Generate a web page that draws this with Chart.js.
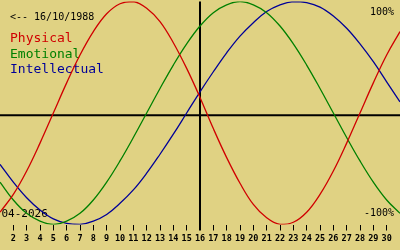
<!DOCTYPE html>
<html>
<head>
<meta charset="utf-8">
<script src="https://cdn.jsdelivr.net/npm/chart.js@4.4.1/dist/chart.umd.min.js"></script>
<style>
  html, body { margin: 0; padding: 0; background: #E0D283; }
  #wrap { width: 400px; height: 250px; position: relative; }
</style>
</head>
<body>
<div id="wrap"><canvas id="bioChart"></canvas></div>
<script>
// Days of the month (04-2026) and the three biorhythm cycles.
const days = [1, 2, 3, 4, 5, 6, 7, 8, 9, 10, 11, 12, 13, 14, 15, 16,
              17, 18, 19, 20, 21, 22, 23, 24, 25, 26, 27, 28, 29, 30, 31];
const physical = [-0.89, -0.73, -0.52, -0.27, 0, 0.27, 0.52, 0.73, 0.89, 0.98, 1.00,
                  0.94, 0.82, 0.63, 0.40, 0.14, -0.14, -0.40, -0.63, -0.82, -0.94,
                  -1.00, -0.98, -0.89, -0.73, -0.52, -0.27, 0, 0.27, 0.52, 0.73];
const emotional = [-0.62, -0.78, -0.90, -0.97, -1.00, -0.97, -0.90, -0.78, -0.62, -0.43,
                   -0.22, 0, 0.22, 0.43, 0.62, 0.78, 0.90, 0.97, 1.00, 0.97, 0.90,
                   0.78, 0.62, 0.43, 0.22, 0, -0.22, -0.43, -0.62, -0.78, -0.90];
const intellectual = [-0.46, -0.62, -0.76, -0.87, -0.95, -0.99, -1.00, -0.97, -0.91, -0.81,
                      -0.69, -0.54, -0.37, -0.19, 0, 0.19, 0.37, 0.54, 0.69, 0.81, 0.91,
                      0.97, 1.00, 0.99, 0.95, 0.87, 0.76, 0.62, 0.46, 0.28, 0.10];
const todayDay = 16;
const baseLevel = -0.02;   // the zero line sits a touch under the curves' midline
const birthLabel = '<-- 16/10/1988';
const monthLabel = '04-2026';
const seriesNames = ['Physical', 'Emotional', 'Intellectual'];
const seriesColors = ['#D00000', '#008000', '#000098'];

const BG = '#E0D283';
const MONO = '"DejaVu Sans Mono", monospace';

const toPoints = vals => days.map((d, i) => ({ x: d, y: vals[i] }));

// Background fill + the fixed captions.
const bioText = {
    id: 'bioText',
    beforeDraw(chart) {
        const ctx = chart.ctx;
        ctx.save();
        ctx.fillStyle = BG;
        ctx.fillRect(0, 0, chart.width, chart.height);
        ctx.restore();
    },
    beforeDatasetsDraw(chart) {
        const ctx = chart.ctx;
        ctx.save();
        ctx.textBaseline = 'alphabetic';
        ctx.fillStyle = '#000';
        ctx.font = '10px ' + MONO;
        ctx.textAlign = 'left';
        ctx.fillText(birthLabel, 10, 20);
        ctx.font = '11px ' + MONO;
        ctx.fillText(monthLabel, 1.5, 217);
        ctx.font = '10px ' + MONO;
        ctx.textAlign = 'right';
        ctx.fillText('100%', 394, 15);
        ctx.fillText('-100%', 394, 216);
        ctx.textAlign = 'left';
        ctx.font = '13px ' + MONO;
        seriesNames.forEach((n, i) => {
            ctx.fillStyle = seriesColors[i];
            ctx.fillText(n, 10, 42 + i * 15.7);
        });
        ctx.restore();
    }
};

function curve(label, vals, color) {
    return {
        label: label,
        data: toPoints(vals),
        borderColor: color,
        borderWidth: 1.3,
        pointRadius: 0,
        tension: 0.4,
        fill: false
    };
}

new Chart(document.getElementById('bioChart'), {
    type: 'line',
    data: {
        datasets: [
            curve(seriesNames[0], physical, seriesColors[0]),
            curve(seriesNames[1], emotional, seriesColors[1]),
            curve(seriesNames[2], intellectual, seriesColors[2]),
            {
                label: 'zero',
                data: [{ x: days[0], y: baseLevel }, { x: days[days.length - 1], y: baseLevel }],
                borderColor: '#000',
                borderWidth: 2,
                pointRadius: 0,
                order: 10
            }
        ]
    },
    options: {
        responsive: true,
        maintainAspectRatio: false,
        animation: false,
        devicePixelRatio: 1,
        layout: { padding: { top: 1.5, left: 0, right: 0, bottom: 0 } },
        plugins: { legend: { display: false }, tooltip: { enabled: false } },
        scales: {
            x: {
                type: 'linear',
                min: days[0],
                max: days[days.length - 1],
                offset: false,
                border: { display: false },
                grid: {
                    drawOnChartArea: true,
                    color: c => (c.tick && c.tick.value === todayDay) ? '#000' : 'rgba(0,0,0,0)',
                    lineWidth: c => (c.tick && c.tick.value === todayDay) ? 2 : 1,
                    tickColor: c => (c.tick && (c.tick.value === days[0] || c.tick.value === days[days.length - 1])) ? 'rgba(0,0,0,0)' : '#000',
                    tickWidth: c => (c.tick && c.tick.value === todayDay) ? 2 : 1,
                    tickLength: 6
                },
                ticks: {
                    stepSize: 1,
                    autoSkip: false,
                    maxRotation: 0,
                    padding: 3,
                    color: '#000',
                    font: { family: MONO, size: 8.5, weight: 'bold' },
                    callback: v => (v > days[0] && v < days[days.length - 1]) ? String(v) : ''
                },
                afterFit: s => {
                    s.height = 25.5;
                    s.paddingLeft = 0;
                    s.paddingRight = 0;
                }
            },
            y: { display: false, min: -1, max: 1 }
        }
    },
    plugins: [bioText]
});
</script>
</body>
</html>
